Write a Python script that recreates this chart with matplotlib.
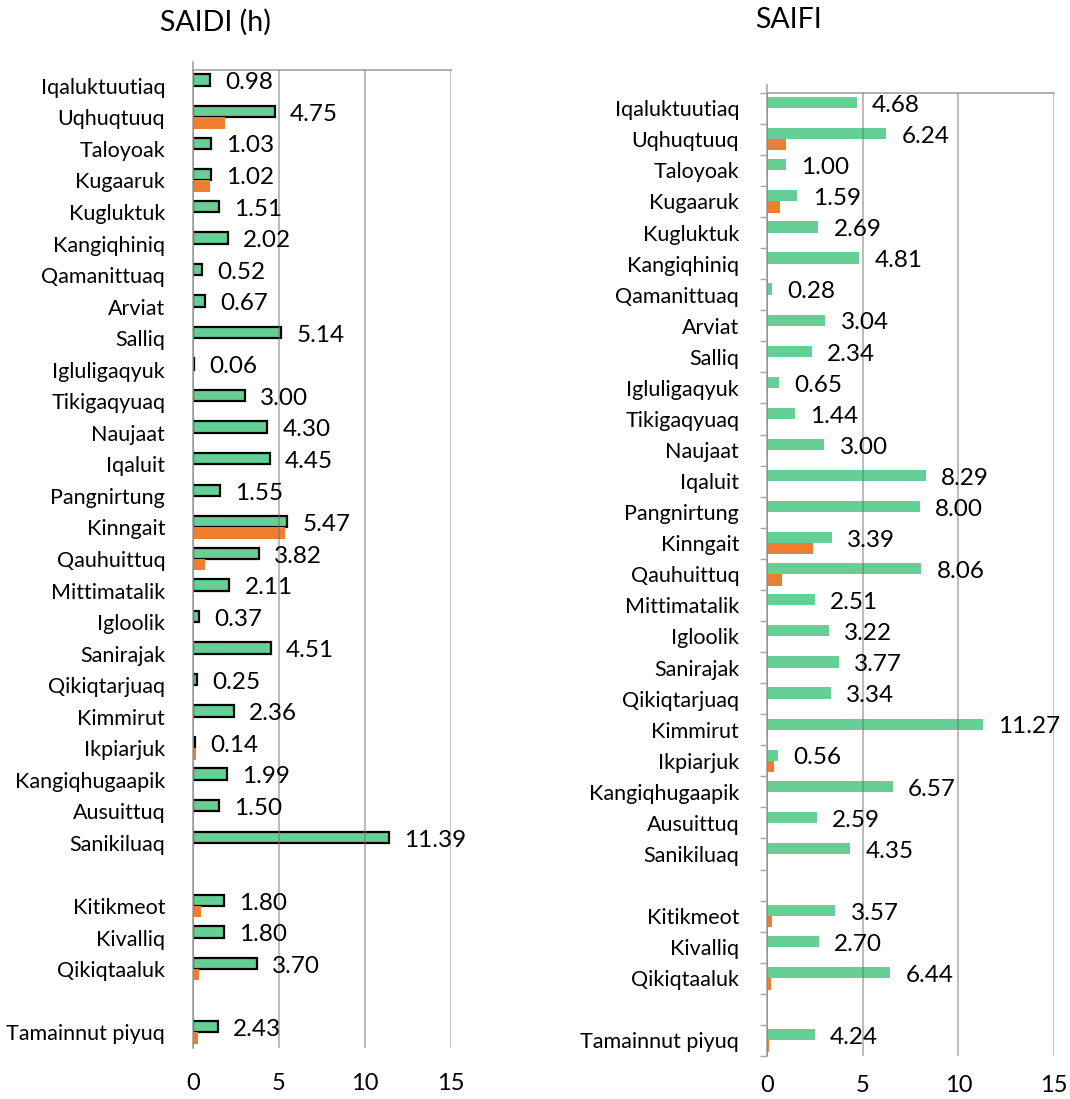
import numpy as np
import matplotlib
matplotlib.use('Agg')
import matplotlib.pyplot as plt
from matplotlib.ticker import FixedLocator

plt.rcParams['font.family'] = ['Lato', 'DejaVu Sans']

nan = np.nan

communities = ['Iqaluktuutiaq', 'Uqhuqtuuq', 'Taloyoak', 'Kugaaruk', 'Kugluktuk',
               'Kangiqhiniq', 'Qamanittuaq', 'Arviat', 'Salliq', 'Igluligaqyuk',
               'Tikigaqyuaq', 'Naujaat', 'Iqaluit', 'Pangnirtung', 'Kinngait',
               'Qauhuittuq', 'Mittimatalik', 'Igloolik', 'Sanirajak', 'Qikiqtarjuaq',
               'Kimmirut', 'Ikpiarjuk', 'Kangiqhugaapik', 'Ausuittuq', 'Sanikiluaq']
regions = ['Kitikmeot', 'Kivalliq', 'Qikiqtaaluk']
total = ['Tamainnut piyuq']
cats = communities + [''] + regions + [''] + total

# SAIDI (h) - bar lengths and printed labels (total bar is drawn shorter than its label)
saidi = [0.98, 4.75, 1.03, 1.02, 1.51, 2.02, 0.52, 0.67, 5.14, 0.06, 3.00, 4.30, 4.45,
         1.55, 5.47, 3.82, 2.11, 0.37, 4.51, 0.25, 2.36, 0.14, 1.99, 1.50, 11.39,
         nan, 1.80, 1.80, 3.70, nan, 1.45]
saidi_lbl = [0.98, 4.75, 1.03, 1.02, 1.51, 2.02, 0.52, 0.67, 5.14, 0.06, 3.00, 4.30, 4.45,
             1.55, 5.47, 3.82, 2.11, 0.37, 4.51, 0.25, 2.36, 0.14, 1.99, 1.50, 11.39,
             nan, 1.80, 1.80, 3.70, nan, 2.43]
saidi_2 = [nan, 1.86, nan, 1.00, nan, nan, nan, nan, nan, nan, nan, nan, nan,
           nan, 5.35, 0.70, nan, nan, nan, nan, nan, 0.15, nan, nan, nan,
           nan, 0.45, nan, 0.37, nan, 0.30]

# SAIFI
saifi = [4.68, 6.24, 1.00, 1.59, 2.69, 4.81, 0.28, 3.04, 2.34, 0.65, 1.44, 3.00, 8.29,
         8.00, 3.39, 8.06, 2.51, 3.22, 3.77, 3.34, 11.27, 0.56, 6.57, 2.59, 4.35,
         nan, 3.57, 2.70, 6.44, nan, 2.50]
saifi_lbl = [4.68, 6.24, 1.00, 1.59, 2.69, 4.81, 0.28, 3.04, 2.34, 0.65, 1.44, 3.00, 8.29,
             8.00, 3.39, 8.06, 2.51, 3.22, 3.77, 3.34, 11.27, 0.56, 6.57, 2.59, 4.35,
             nan, 3.57, 2.70, 6.44, nan, 4.24]
saifi_2 = [nan, 0.98, nan, 0.68, nan, nan, nan, nan, nan, nan, nan, nan, nan,
           nan, 2.39, 0.77, nan, nan, nan, nan, nan, 0.37, nan, nan, nan,
           nan, 0.25, nan, 0.20, nan, 0.12]

green = '#66CF96'
orange = '#ED7D31'
gray = '#A6A6A6'

W, H = 1070, 1099
fig = plt.figure(figsize=(W / 100, H / 100), dpi=100)


def add_axes(l, r, t, b):
    return fig.add_axes([l / W, 1 - b / H, (r - l) / W, (b - t) / H])


def draw(ax, main, lbls, other, edge, boundary_ticks, xpad):
    y = np.arange(len(cats))
    w = 0.36
    if edge:
        ax.barh(y - w / 2, main, height=w, color=green, edgecolor='black', linewidth=1.6, zorder=1)
    else:
        ax.barh(y - w / 2, main, height=w, color=green, zorder=1)
    ax.barh(y + w / 2, other, height=w, color=orange, zorder=1)
    for yi, v, lb in zip(y, main, lbls):
        if np.isnan(v):
            continue
        ax.annotate(f'{lb:.2f}', (v, yi - w / 2), xytext=(11, -2), textcoords='offset points',
                    va='center', ha='left', fontsize=17.5, annotation_clip=False)
    ax.set_xlim(0, 15)
    ax.set_ylim(len(cats) - 0.5, -0.5)
    ax.set_yticks(y)
    ax.set_yticklabels(cats, fontsize=15.5)
    ax.set_xticks([0, 5, 10, 15])
    ax.tick_params(axis='x', length=0, labelsize=17, pad=xpad)
    ax.tick_params(axis='y', which='major', length=0, pad=20)
    if boundary_ticks:
        ax.yaxis.set_minor_locator(FixedLocator(np.arange(-0.5, len(cats), 1)))
        ax.tick_params(axis='y', which='minor', length=5, color=gray, width=1)
    ax.grid(axis='x', color='#707070', alpha=0.6, linewidth=1.1)
    ax.set_axisbelow(False)
    for s in ['bottom', 'right']:
        ax.spines[s].set_visible(False)
    for s in ['left', 'top']:
        ax.spines[s].set_color(gray)
        ax.spines[s].set_linewidth(1.2)
    # left axis line pokes a little above the top border
    axh = ax.get_position().height * H
    ax.plot([0, 0], [1, 1 + 8 / axh], transform=ax.transAxes, color=gray,
            linewidth=1.2, clip_on=False)


ax1 = add_axes(193, 451, 70, 1048)
draw(ax1, saidi, saidi_lbl, saidi_2, True, False, 18)

ax2 = add_axes(767, 1054, 92.7, 1056)
draw(ax2, saifi, saifi_lbl, saifi_2, False, True, 14)

fig.text(215 / W, 1 - 22 / H, 'SAIDI (h)', ha='center', va='center', fontsize=20.5)
fig.text(788 / W, 1 - 20 / H, 'SAIFI', ha='center', va='center', fontsize=20.5)

fig.savefig('out.png', dpi=100)
